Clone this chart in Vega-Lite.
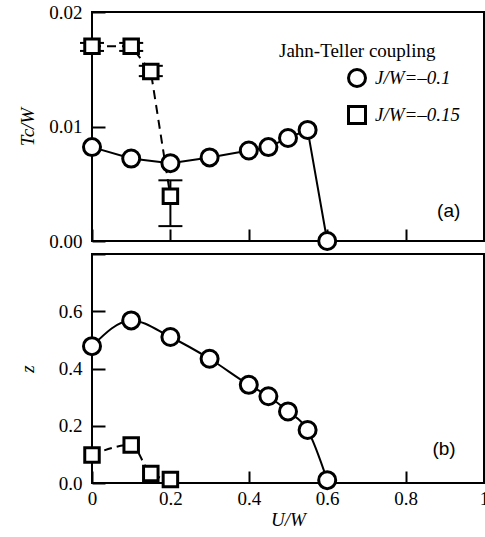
{
  "$schema": "https://vega.github.io/schema/vega-lite/v6.json",
  "padding": {"left": 17, "top": 2, "right": 0, "bottom": 5},
  "bounds": "flush",
  "spacing": 13,
  "config": {
    "view": {"stroke": "black", "strokeWidth": 2},
    "font": "Liberation Serif"
  },
  "datasets": {
    "tc": [
      {"U": 0, "Tc": 0.0082, "series": "J/W=–0.1"},
      {"U": 0.1, "Tc": 0.0072, "series": "J/W=–0.1"},
      {"U": 0.2, "Tc": 0.0068, "series": "J/W=–0.1"},
      {"U": 0.3, "Tc": 0.0073, "series": "J/W=–0.1"},
      {"U": 0.4, "Tc": 0.0079, "series": "J/W=–0.1"},
      {"U": 0.45, "Tc": 0.0082, "series": "J/W=–0.1"},
      {"U": 0.5, "Tc": 0.009, "series": "J/W=–0.1"},
      {"U": 0.55, "Tc": 0.0097, "series": "J/W=–0.1"},
      {"U": 0.6, "Tc": 0.0, "series": "J/W=–0.1"},
      {"U": 0, "Tc": 0.017, "lo": 0.0166, "hi": 0.0173, "series": "J/W=–0.15"},
      {"U": 0.1, "Tc": 0.017, "lo": 0.0166, "hi": 0.0173, "series": "J/W=–0.15"},
      {"U": 0.15, "Tc": 0.0148, "lo": 0.0144, "hi": 0.0153, "series": "J/W=–0.15"},
      {"U": 0.2, "Tc": 0.0039, "lo": 0.0013, "hi": 0.0053, "series": "J/W=–0.15"}
    ],
    "z": [
      {"U": 0, "z": 0.478, "series": "J/W=–0.1"},
      {"U": 0.1, "z": 0.568, "series": "J/W=–0.1"},
      {"U": 0.2, "z": 0.51, "series": "J/W=–0.1"},
      {"U": 0.3, "z": 0.434, "series": "J/W=–0.1"},
      {"U": 0.4, "z": 0.343, "series": "J/W=–0.1"},
      {"U": 0.45, "z": 0.303, "series": "J/W=–0.1"},
      {"U": 0.5, "z": 0.25, "series": "J/W=–0.1"},
      {"U": 0.55, "z": 0.185, "series": "J/W=–0.1"},
      {"U": 0.6, "z": 0.01, "series": "J/W=–0.1"},
      {"U": 0, "z": 0.098, "series": "J/W=–0.15"},
      {"U": 0.1, "z": 0.133, "series": "J/W=–0.15"},
      {"U": 0.15, "z": 0.033, "series": "J/W=–0.15"},
      {"U": 0.2, "z": 0.012, "series": "J/W=–0.15"}
    ]
  },
  "vconcat": [
    {
      "width": 392,
      "height": 229,
      "layer": [
        {
          "data": {"name": "tc"},
          "transform": [{"filter": "datum.series == 'J/W=–0.1'"}],
          "mark": {"type": "line", "stroke": "black", "strokeWidth": 2},
          "encoding": {
            "x": {"field": "U", "type": "quantitative", "scale": {"domain": [0, 1], "nice": false},
              "axis": {"orient": "bottom", "values": [0, 0.2, 0.4, 0.6, 0.8, 1], "labels": false,
                "title": null, "offset": -12, "tickSize": 12, "domain": false, "grid": false,
                "tickColor": "black", "tickWidth": 2}},
            "y": {"field": "Tc", "type": "quantitative", "scale": {"domain": [0, 0.02], "nice": false},
              "axis": {"orient": "left", "values": [0, 0.01, 0.02], "format": ".2f",
                "offset": -13, "tickSize": 13, "labelPadding": 10, "domain": false, "grid": false,
                "tickColor": "black", "tickWidth": 2,
                "labelFont": "Liberation Serif", "labelFontSize": 19, "labelColor": "black",
                "labelFlush": false, "labelOverlap": false,
                "minExtent": 56, "maxExtent": 56, "title": "Tc/W", "titlePadding": 12,
                "titleFont": "Liberation Serif", "titleFontStyle": "italic", "titleFontWeight": "normal",
                "titleFontSize": 19, "titleColor": "black"}}
          }
        },
        {
          "data": {"name": "tc"},
          "transform": [{"filter": "datum.series == 'J/W=–0.15'"}],
          "mark": {"type": "line", "stroke": "black", "strokeWidth": 2, "strokeDash": [9, 6]},
          "encoding": {
            "x": {"field": "U", "type": "quantitative"},
            "y": {"field": "Tc", "type": "quantitative"}
          }
        },
        {
          "data": {"name": "tc"},
          "transform": [{"filter": "datum.series == 'J/W=–0.15'"}],
          "mark": {"type": "rule", "stroke": "black", "strokeWidth": 2},
          "encoding": {
            "x": {"field": "U", "type": "quantitative"},
            "y": {"field": "lo", "type": "quantitative"},
            "y2": {"field": "hi"}
          }
        },
        {
          "data": {"name": "tc"},
          "transform": [{"filter": "datum.series == 'J/W=–0.15'"}],
          "mark": {"type": "tick", "orient": "horizontal", "color": "black", "size": 24, "thickness": 2, "opacity": 1},
          "encoding": {
            "x": {"field": "U", "type": "quantitative"},
            "y": {"field": "lo", "type": "quantitative"}
          }
        },
        {
          "data": {"name": "tc"},
          "transform": [{"filter": "datum.series == 'J/W=–0.15'"}],
          "mark": {"type": "tick", "orient": "horizontal", "color": "black", "size": 24, "thickness": 2, "opacity": 1},
          "encoding": {
            "x": {"field": "U", "type": "quantitative"},
            "y": {"field": "hi", "type": "quantitative"}
          }
        },
        {
          "data": {"name": "tc"},
          "transform": [{"filter": "datum.series == 'J/W=–0.1'"}],
          "mark": {"type": "point", "size": 289, "filled": false, "color": "black", "fill": "white", "fillOpacity": 1, "strokeWidth": 3, "opacity": 1},
          "encoding": {
            "x": {"field": "U", "type": "quantitative"},
            "y": {"field": "Tc", "type": "quantitative"},
            "shape": {"field": "series", "type": "nominal",
              "scale": {"domain": ["J/W=–0.1", "J/W=–0.15"], "range": ["circle", "square"]},
              "legend": {"orient": "none", "legendX": 187, "legendY": 30,
                "title": "Jahn-Teller coupling", "titleFont": "Liberation Serif", "titleFontSize": 19,
                "titleFontWeight": "normal", "titleColor": "black", "titlePadding": 7,
                "labelFont": "Liberation Serif", "labelFontStyle": "italic", "labelFontSize": 19, "labelColor": "black",
                "symbolSize": 289, "symbolStrokeWidth": 3, "symbolOffset": 68, "labelOffset": 8, "rowPadding": 7}}
          }
        },
        {
          "data": {"name": "tc"},
          "transform": [{"filter": "datum.series == 'J/W=–0.15'"}],
          "mark": {"type": "point", "size": 210, "filled": false, "color": "black", "fill": "white", "fillOpacity": 1, "strokeWidth": 3, "opacity": 1},
          "encoding": {
            "x": {"field": "U", "type": "quantitative"},
            "y": {"field": "Tc", "type": "quantitative"},
            "shape": {"field": "series", "type": "nominal"}
          }
        },
        {
          "data": {"values": [{"U": 0.91, "Tc": 0.0026, "tag": "(a)"}]},
          "mark": {"type": "text", "font": "Liberation Sans", "fontSize": 19, "color": "black"},
          "encoding": {
            "x": {"field": "U", "type": "quantitative"},
            "y": {"field": "Tc", "type": "quantitative"},
            "text": {"field": "tag"}
          }
        }
      ]
    },
    {
      "width": 392,
      "height": 229,
      "layer": [
        {
          "data": {"name": "z"},
          "transform": [{"filter": "datum.series == 'J/W=–0.1'"}],
          "mark": {"type": "line", "stroke": "black", "strokeWidth": 2, "interpolate": "monotone"},
          "encoding": {
            "x": {"field": "U", "type": "quantitative", "scale": {"domain": [0, 1], "nice": false},
              "axis": {"orient": "bottom", "values": [0, 0.2, 0.4, 0.6, 0.8, 1],
                "labelExpr": "'' + datum.value", "offset": -12, "tickSize": 12, "labelPadding": 6,
                "domain": false, "grid": false, "tickColor": "black", "tickWidth": 2,
                "labelFont": "Liberation Serif", "labelFontSize": 19, "labelColor": "black",
                "labelFlush": false, "labelOverlap": false,
                "title": "U/W", "titlePadding": 2,
                "titleFont": "Liberation Serif", "titleFontStyle": "italic", "titleFontWeight": "normal",
                "titleFontSize": 19, "titleColor": "black"}},
            "y": {"field": "z", "type": "quantitative", "scale": {"domain": [0, 0.8], "nice": false},
              "axis": {"orient": "left", "values": [0, 0.2, 0.4, 0.6, 0.8],
                "labelExpr": "datum.value < 0.7 ? format(datum.value, '.1f') : ''",
                "offset": -13, "tickSize": 13, "labelPadding": 10,
                "domain": false, "grid": false, "tickColor": "black", "tickWidth": 2,
                "labelFont": "Liberation Serif", "labelFontSize": 19, "labelColor": "black",
                "labelFlush": false, "labelOverlap": false,
                "minExtent": 56, "maxExtent": 56, "title": "z", "titlePadding": 12,
                "titleFont": "Liberation Serif", "titleFontStyle": "italic", "titleFontWeight": "normal",
                "titleFontSize": 19, "titleColor": "black"}}
          }
        },
        {
          "data": {"name": "z"},
          "transform": [{"filter": "datum.series == 'J/W=–0.15'"}],
          "mark": {"type": "line", "stroke": "black", "strokeWidth": 2, "strokeDash": [8, 5], "interpolate": "monotone"},
          "encoding": {
            "x": {"field": "U", "type": "quantitative"},
            "y": {"field": "z", "type": "quantitative"}
          }
        },
        {
          "data": {"name": "z"},
          "transform": [{"filter": "datum.series == 'J/W=–0.1'"}],
          "mark": {"type": "point", "shape": "circle", "size": 289, "filled": false, "fill": "white", "fillOpacity": 1, "stroke": "black", "strokeWidth": 3, "opacity": 1},
          "encoding": {
            "x": {"field": "U", "type": "quantitative"},
            "y": {"field": "z", "type": "quantitative"}
          }
        },
        {
          "data": {"name": "z"},
          "transform": [{"filter": "datum.series == 'J/W=–0.15'"}],
          "mark": {"type": "point", "shape": "square", "size": 210, "filled": false, "fill": "white", "fillOpacity": 1, "stroke": "black", "strokeWidth": 3, "opacity": 1},
          "encoding": {
            "x": {"field": "U", "type": "quantitative"},
            "y": {"field": "z", "type": "quantitative"}
          }
        },
        {
          "data": {"values": [{"U": 0.898, "z": 0.119, "tag": "(b)"}]},
          "mark": {"type": "text", "font": "Liberation Sans", "fontSize": 19, "color": "black"},
          "encoding": {
            "x": {"field": "U", "type": "quantitative"},
            "y": {"field": "z", "type": "quantitative"},
            "text": {"field": "tag"}
          }
        }
      ]
    }
  ]
}
